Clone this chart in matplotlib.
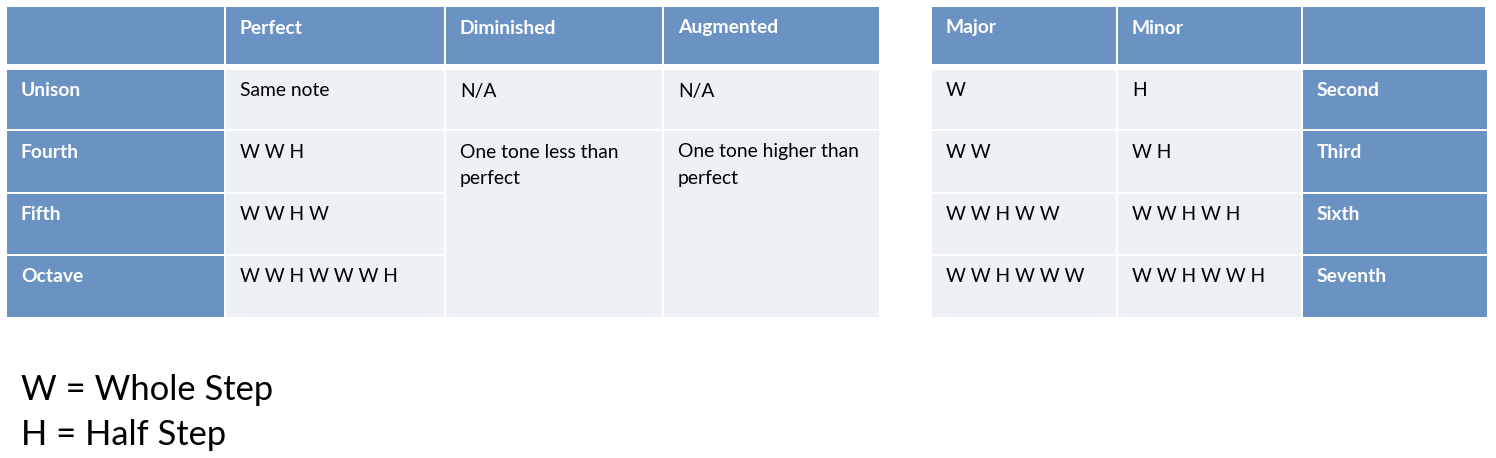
import matplotlib.pyplot as plt
from matplotlib.patches import Rectangle

# data
left_header = ["", "Perfect", "Diminished", "Augmented"]
left_rows = ["Unison", "Fourth", "Fifth", "Octave"]
perfect = ["Same note", "W W H", "W W H W", "W W H W W W H"]
diminished = ["N/A", "One tone less than\nperfect"]
augmented = ["N/A", "One tone higher than\nperfect"]

right_header = ["Major", "Minor", ""]
right_rows = ["Second", "Third", "Sixth", "Seventh"]
major = ["W", "W W", "W W H W W", "W W H W W W"]
minor = ["H", "W H", "W W H W H", "W W H W W H"]

legend_lines = ["W = Whole Step", "H = Half Step"]

# layout (pixels)
BLUE = "#6a93c4"
LIGHT = "#edf0f5"
FONT = ["Lato", "DejaVu Sans"]
FS = 13.9

left_x = [7, 226, 446, 664, 881]
right_x = [932, 1118, 1303, 1487]
head_y = (7, 64)
row_y = [(70, 129), (131, 192), (194, 254), (256, 317)]

fig = plt.figure(figsize=(14.96, 4.58), dpi=100)
ax = fig.add_axes([0, 0, 1, 1])
ax.set_xlim(0, 1496)
ax.set_ylim(458, 0)
ax.axis("off")


def cell(x0, x1, y0, y1, color, text="", bold=False, txtcolor="black"):
    ax.add_patch(Rectangle((x0, y0), x1 - x0 - 2, y1 - y0, facecolor=color,
                           edgecolor="none"))
    if text:
        ax.text(x0 + 14, y0 + 12.5, text, ha="left", va="top", fontsize=FS,
                family=FONT, fontweight="bold" if bold else "normal",
                color=txtcolor, linespacing=1.65)


# left table
for i, h in enumerate(left_header):
    cell(left_x[i], left_x[i + 1], head_y[0], head_y[1], BLUE, h, True, "white")
for r, name in enumerate(left_rows):
    y0, y1 = row_y[r]
    cell(left_x[0], left_x[1], y0, y1, BLUE, name, True, "white")
    cell(left_x[1], left_x[2], y0, y1, LIGHT, perfect[r])
cell(left_x[2], left_x[3], row_y[0][0], row_y[0][1], LIGHT, diminished[0])
cell(left_x[3], left_x[4], row_y[0][0], row_y[0][1], LIGHT, augmented[0])
cell(left_x[2], left_x[3], row_y[1][0], row_y[3][1], LIGHT, diminished[1])
cell(left_x[3], left_x[4], row_y[1][0], row_y[3][1], LIGHT, augmented[1])

# right table
for i, h in enumerate(right_header):
    cell(right_x[i], right_x[i + 1], head_y[0], head_y[1], BLUE, h, True, "white")
for r, name in enumerate(right_rows):
    y0, y1 = row_y[r]
    cell(right_x[0], right_x[1], y0, y1, LIGHT, major[r])
    cell(right_x[1], right_x[2], y0, y1, LIGHT, minor[r])
    cell(right_x[2], right_x[3] + 2, y0, y1, BLUE, name, True, "white")

# legend text below
for k, line in enumerate(legend_lines):
    ax.text(21, 390 + k * 45, line, ha="left", va="center", fontsize=24.8,
            family=FONT, color="black")

fig.savefig("out.png", dpi=100)
